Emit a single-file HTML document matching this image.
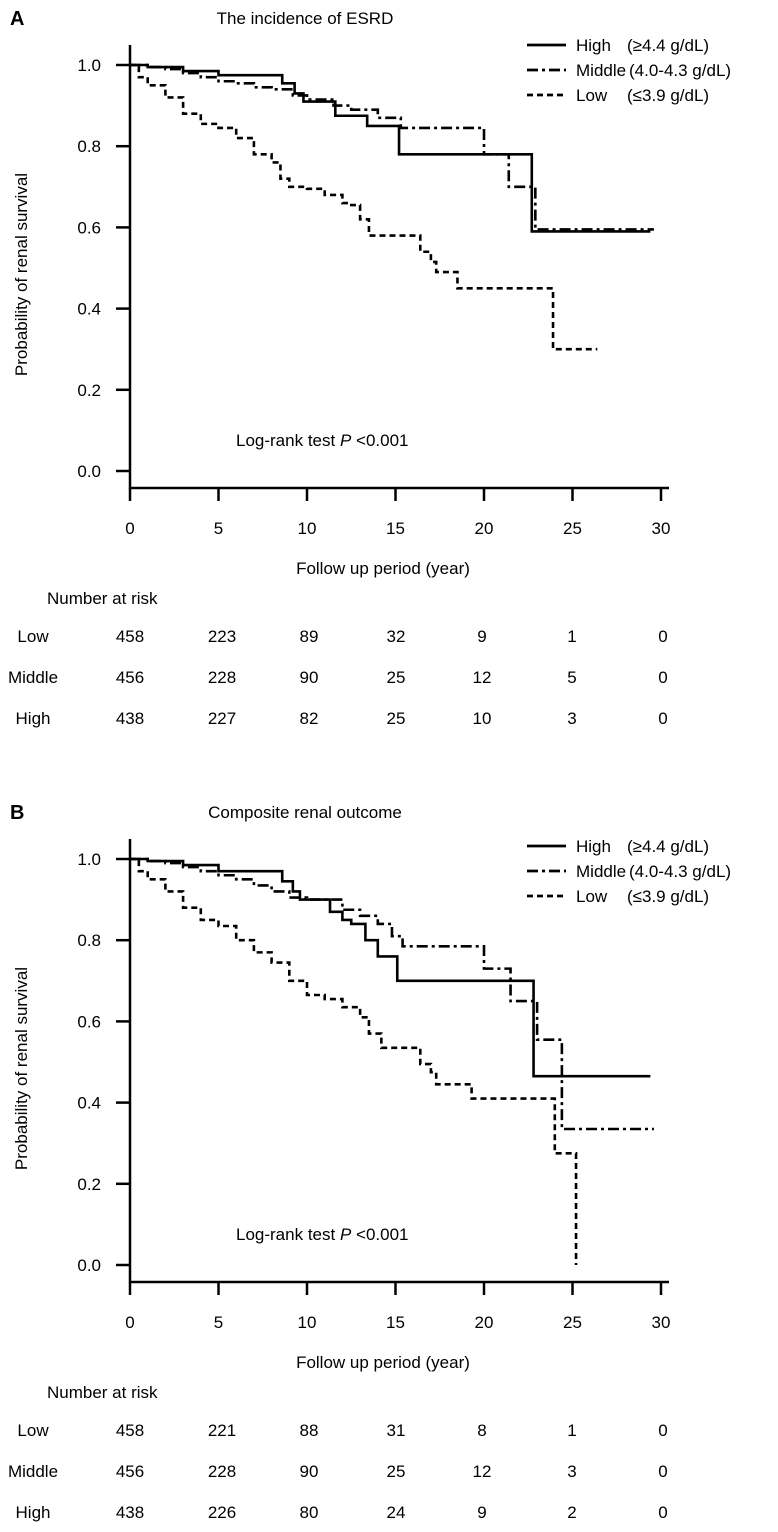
<!DOCTYPE html>
<html><head><meta charset="utf-8">
<style>
html,body{margin:0;padding:0;background:#fff;}
svg{display:block;font-family:"Liberation Sans",Arial,sans-serif;}
</style></head>
<body>
<svg id="fig" width="778" height="1532" viewBox="0 0 778 1532" xmlns="http://www.w3.org/2000/svg"></svg>
<script>
// ---- data ----
const xTicks = [0,5,10,15,20,25,30];
const yTicks = [0.0,0.2,0.4,0.6,0.8,1.0];
const riskGroups = ["Low","Middle","High"];
const riskA_Low = [458,223,89,32,9,1,0];
const riskA_Middle = [456,228,90,25,12,5,0];
const riskA_High = [438,227,82,25,10,3,0];
const riskB_Low = [458,221,88,31,8,1,0];
const riskB_Middle = [456,228,90,25,12,3,0];
const riskB_High = [438,226,80,24,9,2,0];
// step curves: times and survival
const A_High_t = [0,1,3,5,8.6,9.3,9.8,11.6,13.4,15.2,22.7,29.4];
const A_High_s = [1,0.995,0.985,0.975,0.955,0.93,0.91,0.875,0.85,0.78,0.59,0.59];
const A_Mid_t = [0,1,2,3,4,5,6,7,8,9.2,10,11.5,12.5,14,15.3,20,21.4,22.9,29.6];
const A_Mid_s = [1,0.995,0.99,0.98,0.97,0.96,0.955,0.945,0.94,0.925,0.915,0.9,0.89,0.87,0.845,0.78,0.70,0.595,0.595];
const A_Low_t = [0,0.5,1,2,3,4,5,6,7,8,8.5,9,10,11,12,12.5,13,13.5,16.4,17,17.3,18.5,23.9,26.4];
const A_Low_s = [1,0.97,0.95,0.92,0.88,0.855,0.845,0.82,0.78,0.76,0.72,0.70,0.695,0.68,0.66,0.655,0.62,0.58,0.54,0.515,0.49,0.45,0.30,0.30];
const B_High_t = [0,1,3,5,8.6,9.2,9.6,11.3,12,12.5,13.3,14,15.1,22.8,29.4];
const B_High_s = [1,0.995,0.985,0.97,0.945,0.92,0.90,0.87,0.85,0.84,0.80,0.76,0.70,0.465,0.465];
const B_Mid_t = [0,1,2,3,4,5,6,7,8,9,10,12,13,14,14.8,15.4,20,21.5,23,24.4,29.6];
const B_Mid_s = [1,0.995,0.99,0.98,0.97,0.96,0.95,0.935,0.92,0.905,0.90,0.875,0.86,0.84,0.81,0.785,0.73,0.65,0.555,0.335,0.335];
const B_Low_t = [0,0.5,1,2,3,4,5,6,7,8,9,10,11,12,13,13.5,14.2,16.4,17,17.3,19.3,24,25.2,25.2];
const B_Low_s = [1,0.97,0.95,0.92,0.88,0.85,0.835,0.80,0.77,0.745,0.70,0.665,0.655,0.635,0.61,0.57,0.535,0.495,0.475,0.445,0.41,0.275,0.0,0.0];

const NS="http://www.w3.org/2000/svg";
const svg=document.getElementById('fig');
function mk(tag,attrs,parent,text){const e=document.createElementNS(NS,tag);for(const k in attrs)e.setAttribute(k,attrs[k]);if(text!==undefined)e.textContent=text;(parent||svg).appendChild(e);return e;}

const X0=130, XS=17.7, FS=17;
function xs(t){return X0+t*XS;}
const riskCols=[130,222,309,396,482,572,663];

function panel(letter,title,oy,curves,risks,legendY){
  const g=mk('g',{},svg);
  
  
  const y1=65+oy, y0=471+oy, H=y0-y1;
  const ys=s=>y0-s*H;
  const ax=oy+488;
  let t=mk('text',{x:10,y:25+oy,'font-size':20,'font-weight':'bold'},g,letter);
  
  t=mk('text',{x:305,y:24+oy,'font-size':FS,'text-anchor':'middle'},g,title);
  
  let l=mk('line',{x1:130,y1:45+oy,x2:130,y2:ax+1,stroke:'#000','stroke-width':2.5},g);
  
  l=mk('line',{x1:129,y1:ax,x2:669,y2:ax,stroke:'#000','stroke-width':2.5},g);
  
  yTicks.forEach(v=>{
    const y=ys(v);
    const tk=mk('line',{x1:116,y1:y,x2:130,y2:y,stroke:'#000','stroke-width':2.5},g);
    
    const tl=mk('text',{x:101,y:y+6,'font-size':FS,'text-anchor':'end'},g,v.toFixed(1));
    
  });
  xTicks.forEach(v=>{
    const x=xs(v);
    const tk=mk('line',{x1:x,y1:ax,x2:x,y2:ax+13,stroke:'#000','stroke-width':2.5},g);
    
    const tl=mk('text',{x:x,y:ax+46,'font-size':FS,'text-anchor':'middle'},g,String(v));
    
  });
  t=mk('text',{x:383,y:ax+86,'font-size':FS,'text-anchor':'middle'},g,'Follow up period (year)');
  
  const cy=(y1+ax)/2-2;
  t=mk('text',{x:27,y:cy,'font-size':FS,'text-anchor':'middle',transform:`rotate(-90 27 ${cy})`},g,'Probability of renal survival');
  
  t=mk('text',{x:236,y:oy+446,'font-size':FS},g);
  
  mk('tspan',{},t,'Log-rank test ');
  mk('tspan',{'font-style':'italic'},t,'P');
  mk('tspan',{},t,' <0.001');
  const styles={High:'',Middle:'11,4,3,4',Low:'6,4'};
  curves.forEach(c=>{
    let d=`M${xs(c.t[0])},${ys(c.s[0])}`;
    for(let i=1;i<c.t.length;i++){d+=` H${xs(c.t[i])} V${ys(c.s[i])}`;}
    const p=mk('path',{d:d,fill:'none',stroke:'#000','stroke-width':2.6,'stroke-dasharray':styles[c.name]||'none'},g);
    
    
  });
  const leg=[["High","(≥4.4 g/dL)"],["Middle","(4.0-4.3 g/dL)"],["Low","(≤3.9 g/dL)"]];
  leg.forEach((e,i)=>{
    const y=legendY+i*25;
    const ln=mk('line',{x1:527,y1:y,x2:566,y2:y,stroke:'#000','stroke-width':2.8,'stroke-dasharray':styles[e[0]]||'none'},g);
    
    const a=mk('text',{x:576,y:y+6,'font-size':FS},g,e[0]);
    
    const b=mk('text',{x:i==1?629:627,y:y+6,'font-size':FS},g,e[1]);
    
  });
  const rt=ax+116;
  t=mk('text',{x:47,y:rt,'font-size':FS},g,'Number at risk');
  
  risks.forEach((arr,ri)=>{
    const y=rt+38+ri*41;
    const lb=mk('text',{x:33,y:y,'font-size':FS,'text-anchor':'middle'},g,riskGroups[ri]);
    
    arr.forEach((v,ci)=>{
      const c=mk('text',{x:riskCols[ci],y:y,'font-size':FS,'text-anchor':'middle'},g,String(v));
      
    });
  });
}
panel('A','The incidence of ESRD',0,[
  {name:'High',t:A_High_t,s:A_High_s},
  {name:'Middle',t:A_Mid_t,s:A_Mid_s},
  {name:'Low',t:A_Low_t,s:A_Low_s}],[riskA_Low,riskA_Middle,riskA_High],45);
panel('B','Composite renal outcome',794,[
  {name:'High',t:B_High_t,s:B_High_s},
  {name:'Middle',t:B_Mid_t,s:B_Mid_s},
  {name:'Low',t:B_Low_t,s:B_Low_s}],[riskB_Low,riskB_Middle,riskB_High],846);
</script>
</body></html>
